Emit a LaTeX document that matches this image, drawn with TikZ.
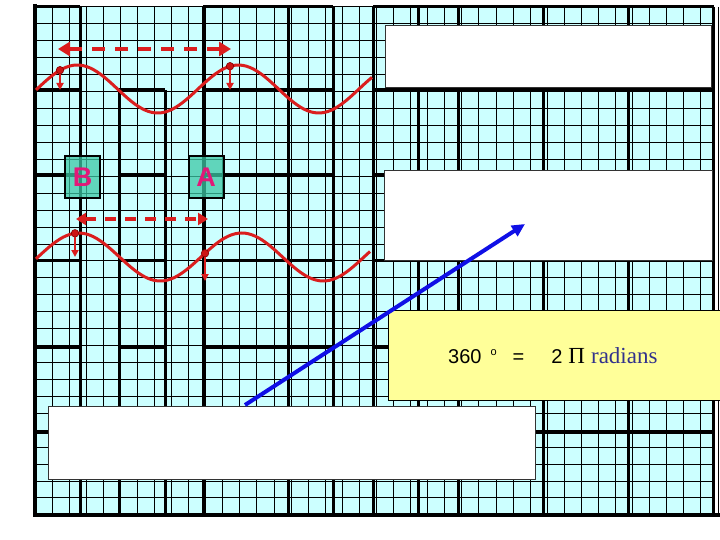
\documentclass[tikz,border=0pt]{standalone}
\usepackage{fontspec}
\setmainfont{Liberation Sans}
\newfontfamily\timesface{Liberation Serif}
\usepackage{xcolor}
\usetikzlibrary{arrows.meta, positioning, calc}
\definecolor{gridcyan}{RGB}{204,255,255}
\definecolor{wavered}{RGB}{218,30,30}
\definecolor{dotred}{RGB}{205,20,20}
\definecolor{boxteal}{RGB}{60,200,165}
\definecolor{letterpink}{RGB}{226,24,120}
\definecolor{notepale}{RGB}{255,255,153}
\definecolor{radblue}{RGB}{50,50,140}
\definecolor{rayblue}{RGB}{15,15,230}

\begin{document}
\begin{tikzpicture}[x=1pt,y=-1pt,
    fine/.style={black,line width=1pt},
    bold/.style={black,line width=3pt},
    frame/.style={black,line width=4pt},
    wave/.style={wavered,line width=3pt},
    span/.style={wavered,line width=4.5pt,dash pattern=on 13pt off 10pt,
      {Triangle[length=12pt,width=14pt]}-{Triangle[length=12pt,width=14pt]}},
    shortspan/.style={wavered,line width=4pt,dash pattern=on 11pt off 9pt,
      {Triangle[length=10pt,width=12pt]}-{Triangle[length=10pt,width=12pt]}},
    dot/.style={circle,fill=dotred,draw=red!50!black,line width=0.6pt,inner sep=0pt,minimum size=7.5pt},
    drop/.style={wavered,line width=2pt,-{Triangle[length=7pt,width=7pt]}},
    point/.style={draw=black,line width=2pt,fill=boxteal,fill opacity=0.75,text opacity=1,
      minimum width=35pt,minimum height=42pt,inner sep=0pt,
      text=letterpink,font=\fontsize{27}{27}\selectfont\bfseries},
    notebox/.style={draw=black!80,line width=0.8pt,fill=white,inner sep=0pt},
    ray/.style={rayblue,line width=4pt,-{Triangle[length=13pt,width=12pt]}}]
    \useasboundingbox (0,0) rectangle (720,540);

    %%%% grid
    \fill [gridcyan] (35,7) rectangle (713,515);
    \foreach \i in {0,...,40} \draw [fine] ({35+\i*17.075},7) -- ({35+\i*17.075},515); %
    \foreach \j in {0,...,30} \draw [fine] (35,{7+\j*16.93}) -- (713,{7+\j*16.93}); %
    \foreach \xx in {80,203,288,333,373,418,458,543,628,713} \draw [bold] (\xx,7) -- (\xx,515); %
    \foreach \xx in {119,165} \draw [bold] (\xx,90) -- (\xx,515); %
    \draw [bold] (35,7) -- (80,7); %
    \draw [bold] (203,7) -- (333,7); %
    \draw [bold] (373,7) -- (714,7); %
    \foreach \yy in {90,175,260,347,432} {
      \draw [bold] (35,\yy) -- (80,\yy); %
      \draw [bold] (119,\yy) -- (165,\yy); %
      \draw [bold] (203,\yy) -- (333,\yy); %
      \draw [bold] (373,\yy) -- (714,\yy); %
    }
    \draw [frame] (35,4) -- (35,517); %
    \draw [frame] (33,515) -- (720,515); %

    %%%% waves
    \draw [wave] plot [domain=36:372,samples=100,smooth] (\x,{89-24*sin(2.23602*(\x-37))}); %
    \draw [wave] plot [domain=36:370,samples=100,smooth] (\x,{257-24*sin(2.20859*(\x-38))}); %

    \node (d1) at (60,70.2) [dot] {}; %
    \node (d2) at (230,66.2) [dot] {}; %
    \node (d3) at (75,233.3) [dot] {}; %
    \node (d4) at (205,253.3) [dot] {}; %
    \coordinate (t1) at (60,90); %
    \coordinate (t2) at (230,90); %
    \coordinate (t3) at (75,257); %
    \coordinate (t4) at (205,281); %
    \draw [drop] (d1) -- (t1); %
    \draw [drop] (d2) -- (t2); %
    \draw [drop] (d3) -- (t3); %
    \draw [drop] (d4) -- (t4); %

    \coordinate (s1) at (58,49); %
    \coordinate (e1) at (231,49); %
    \coordinate (s2) at (76,219); %
    \coordinate (e2) at (208,219); %
    \draw [span] (s1) -- (e1); %
    \draw [shortspan] (s2) -- (e2); %

    %%%% points
    \node (pb) at (82.5,177) [point] {B}; %
    \node (pa) at (206,177) [point] {A}; %

    %%%% boxes
    \node (note1) at (548,56) [notebox,minimum width=326pt,minimum height=62pt] {}; %
    \node (note2) at (548,215) [notebox,minimum width=328pt,minimum height=90pt] {}; %
    \node (note3) at (291.5,442.5) [notebox,minimum width=487pt,minimum height=73pt] {}; %
    \node (note4) at (556,355) [notebox,draw=black,fill=notepale,minimum width=336pt,minimum height=90pt] {}; %
    \node (eqn) at (448,363) [anchor=base west,inner sep=0pt,font=\fontsize{20}{20}\selectfont]
      {360\hspace{9pt}\raisebox{8pt}{\fontsize{11}{11}\selectfont o}\hspace{16pt}=\hspace{27pt}2\hspace{6pt}{\timesface\fontsize{23}{23}\selectfont Π\hspace{6pt}\color{radblue}radians}}; %

    %%%% ray
    \coordinate (r0) at (245,405); %
    \coordinate (r1) at (525,224); %
    \draw [ray] (r0) -- (r1); %
\end{tikzpicture}
\end{document}
